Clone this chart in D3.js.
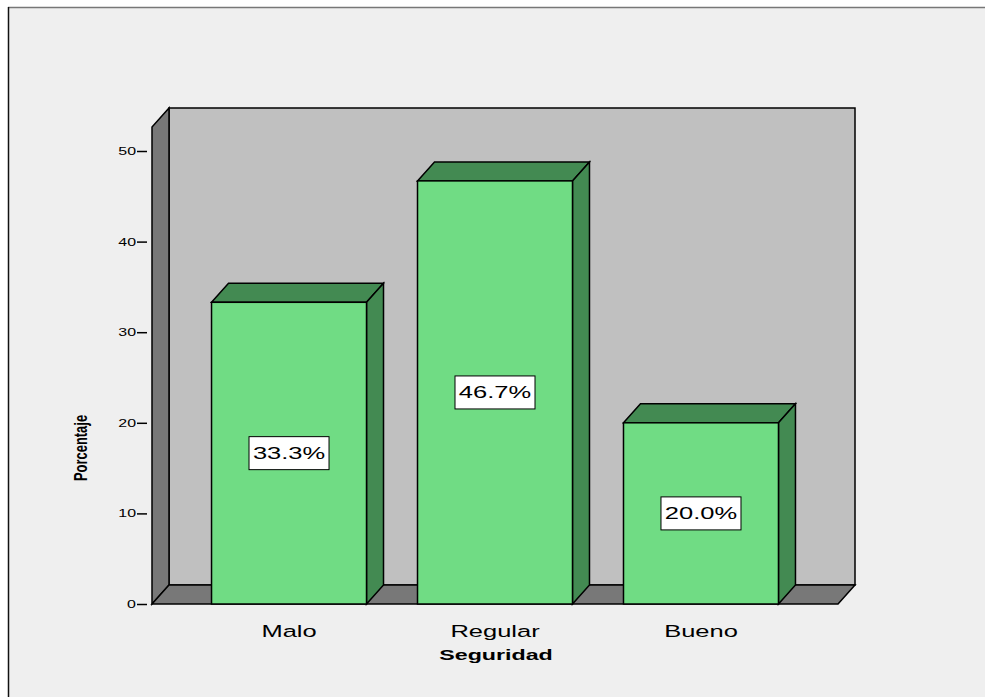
<!DOCTYPE html>
<html><head><meta charset="utf-8">
<script src="https://cdn.jsdelivr.net/npm/d3@7"></script>
<style>body{margin:0;background:#fff;}svg{display:block;}</style>
</head><body>
<script>
const categories = ["Malo", "Regular", "Bueno"];
const values = [33.3, 46.7, 20.0];
const valueLabels = ["33.3%", "46.7%", "20.0%"];
const yTicks = [0, 10, 20, 30, 40, 50];
const yTitle = "Porcentaje";
const xTitle = "Seguridad";

const W = 985, H = 697;
const dx = 17, dy = -19;
const FONT = "Liberation Sans, Arial, sans-serif";
const svg = d3.select("body").append("svg").attr("width", W).attr("height", H);

svg.append("rect").attr("x", 0).attr("y", 0).attr("width", W).attr("height", H).attr("fill", "#fff");
svg.append("rect").attr("x", 8).attr("y", 7).attr("width", W - 8).attr("height", H - 7).attr("fill", "#EFEFEF");
svg.append("line").attr("x1", 8).attr("x2", W).attr("y1", 7.5).attr("y2", 7.5).attr("stroke", "#777").attr("stroke-width", 1.5);
svg.append("line").attr("x1", 8.5).attr("x2", 8.5).attr("y1", 7).attr("y2", H).attr("stroke", "#111").attr("stroke-width", 1.5);

const x0 = 152, x1 = 838;
const y = d3.scaleLinear().domain([0, 50]).range([604, 151]);
const x = d3.scaleBand().domain(categories).range([x0, x1]).paddingInner(0.2476).paddingOuter(0.289);

function stretchedText(parent, tx, ty, txt, size, sx, opts = {}) {
  return parent.append("text")
    .attr("transform", `translate(${tx},${ty}) scale(${sx},1)`)
    .attr("text-anchor", opts.anchor || "middle")
    .attr("font-family", FONT).attr("font-size", size)
    .attr("font-weight", opts.weight || "normal")
    .attr("fill", "#000").text(txt);
}

const yTop = 127;
const g = svg.append("g").attr("stroke", "#000").attr("stroke-width", 1.5);

g.append("rect").attr("x", x0 + dx).attr("y", yTop + dy).attr("width", x1 - x0).attr("height", y(0) - yTop)
  .attr("fill", "#C0C0C0");
g.append("path").attr("d", `M${x0},${y(0)} L${x0},${yTop} L${x0+dx},${yTop+dy} L${x0+dx},${y(0)+dy} Z`).attr("fill", "#787878");
g.append("path").attr("d", `M${x0},${y(0)} L${x0+dx},${y(0)+dy} L${x1+dx},${y(0)+dy} L${x1},${y(0)} Z`).attr("fill", "#787878");

// y axis ticks
const axis = d3.axisLeft(y).tickValues(yTicks).tickSize(10).tickFormat("");
const ag = svg.append("g").attr("transform", `translate(${x0 - 5},0)`).call(axis);
ag.select(".domain").remove();
ag.selectAll(".tick line").attr("stroke", "#000").attr("stroke-width", 1.5);
yTicks.forEach(t => stretchedText(svg, x0 - 16, y(t) + 4, String(t), 11, 1.45, {anchor: "end"}));

// bars
const bars = svg.append("g").selectAll("g").data(categories).join("g");
bars.each(function(c, i) {
  const b = d3.select(this);
  const bx = x(c), bw = x.bandwidth(), by = y(values[i]), bb = y(0);
  b.append("path").attr("d", `M${bx},${by} L${bx+dx},${by+dy} L${bx+bw+dx},${by+dy} L${bx+bw},${by} Z`)
    .attr("fill", "#438A52").attr("stroke", "#000").attr("stroke-width", 1.5);
  b.append("path").attr("d", `M${bx+bw},${by} L${bx+bw+dx},${by+dy} L${bx+bw+dx},${bb+dy} L${bx+bw},${bb} Z`)
    .attr("fill", "#438A52").attr("stroke", "#000").attr("stroke-width", 1.5);
  b.append("rect").attr("x", bx).attr("y", by).attr("width", bw).attr("height", bb - by)
    .attr("fill", "#70DC84").attr("stroke", "#000").attr("stroke-width", 1.5);
  const cx = bx + bw / 2, cy = (by + bb) / 2;
  b.append("rect").attr("x", cx - 40).attr("y", cy - 16.5).attr("width", 80).attr("height", 33)
    .attr("fill", "#fff").attr("stroke", "#000").attr("stroke-width", 1);
  stretchedText(b, cx, cy + 6, valueLabels[i], 17, 1.5);
  stretchedText(svg, cx, 637, c, 17, 1.5);
});

stretchedText(svg, (x0 + x1) / 2 + 1, 660, xTitle, 15, 1.55, {weight: "bold"});
svg.append("text").attr("transform", "translate(87,448) rotate(-90) scale(0.72,1)").attr("text-anchor", "middle")
  .attr("font-family", FONT).attr("font-weight", "bold").attr("font-size", 18).attr("fill", "#000").text(yTitle);
</script>
</body></html>
